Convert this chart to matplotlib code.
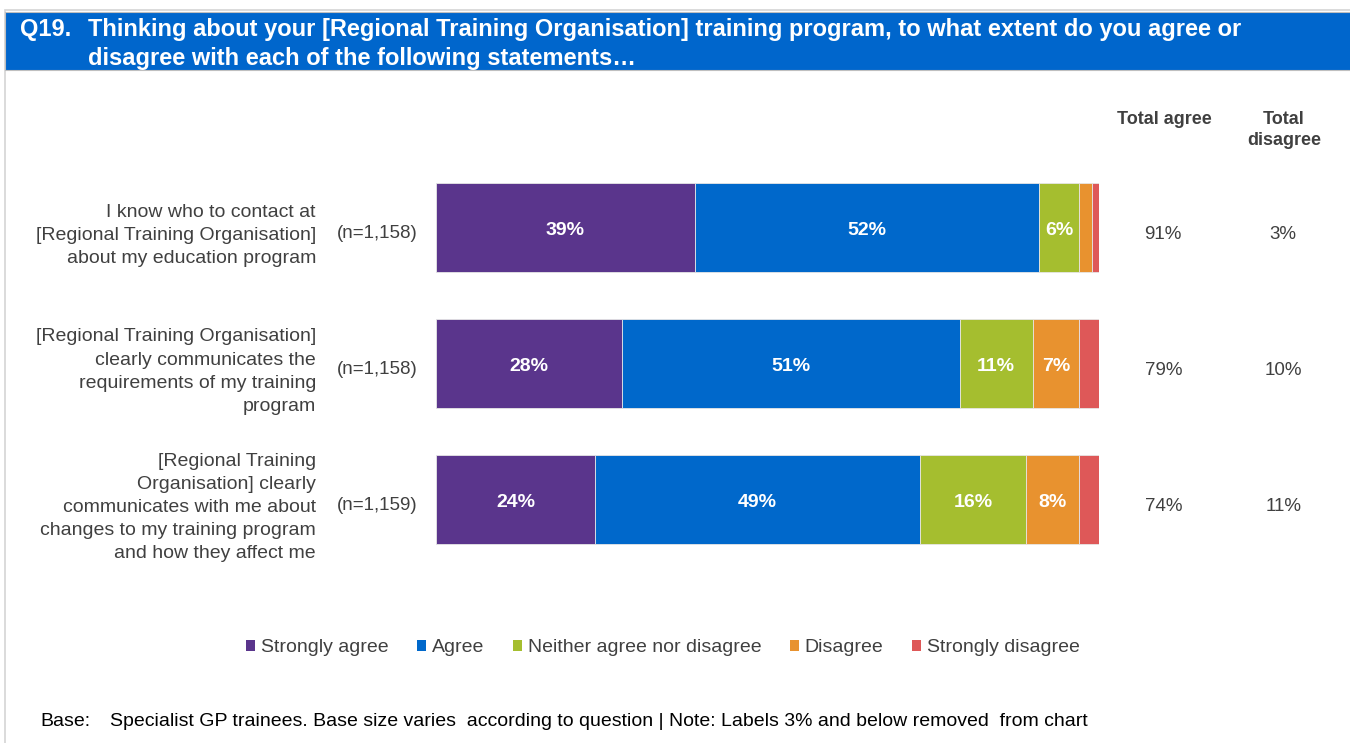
import numpy as np
import matplotlib.pyplot as plt
from matplotlib.patches import Rectangle, Patch

plt.rcParams['font.family'] = ['Liberation Sans', 'DejaVu Sans']

# Data
statements = [
    "I know who to contact at\n[Regional Training Organisation]\nabout my education program",
    "[Regional Training Organisation]\nclearly communicates the\nrequirements of my training\nprogram",
    "[Regional Training\nOrganisation] clearly\ncommunicates with me about\nchanges to my training program\nand how they affect me",
]
base_sizes = ["(n=1,158)", "(n=1,158)", "(n=1,159)"]
categories = ["Strongly agree", "Agree", "Neither agree nor disagree", "Disagree", "Strongly disagree"]
strongly_agree = [39, 28, 24]
agree = [52, 51, 49]
neither = [6, 11, 16]
disagree = [2, 7, 8]
strongly_disagree = [1, 3, 3]
total_agree = [91, 79, 74]
total_disagree = [3, 10, 11]

colors = ['#5A358C', '#0068CB', '#A5BE2F', '#E8922F', '#DE5858']
header_blue = '#0066CC'
text_grey = '#404040'

W, H = 1350, 743
fig = plt.figure(figsize=(W / 100, H / 100), dpi=100)


def fx(px):
    return px / W


def fy(py):
    return 1 - py / H


# frame and header band
fig.patches.append(Rectangle((fx(5), fy(H + 5)), fx(W), fy(10) - fy(H + 5), transform=fig.transFigure,
                             facecolor='none', edgecolor='#d4d4d4', lw=1.2, zorder=0))
fig.patches.append(Rectangle((fx(5), fy(70)), 1, fy(12) - fy(70), transform=fig.transFigure,
                             facecolor=header_blue, edgecolor='#bfbfbf', lw=0.8, zorder=1))
fig.text(fx(20), fy(36), "Q19.", color='white', fontsize=17, fontweight='bold', va='baseline')
fig.text(fx(88), fy(36), "Thinking about your [Regional Training Organisation] training program, to what extent do you agree or",
         color='white', fontsize=17, fontweight='bold', va='baseline')
fig.text(fx(88), fy(65), "disagree with each of the following statements…",
         color='white', fontsize=17, fontweight='bold', va='baseline')

# bar axes
ax = fig.add_axes([fx(436), fy(567.5), fx(1099) - fx(436), fy(159.5) - fy(567.5)])
series = [strongly_agree, agree, neither, disagree, strongly_disagree]
y = np.arange(len(statements))
left = np.zeros(len(statements))
dy = 0.025  # text sits slightly below bar centre in the reference
for vals, col in zip(series, colors):
    vals = np.array(vals)
    ax.barh(y, vals, left=left, height=0.66, color=col, edgecolor='#e6e6e6', linewidth=0.6)
    for yi, v, l in zip(y, vals, left):
        if v > 3:
            ax.text(l + v / 2, yi + dy, f"{v}%", color='white', fontsize=14, fontweight='bold',
                    ha='center', va='center')
    left += vals
ax.set_xlim(0, 100)
ax.set_ylim(2.5, -0.5)
ax.axis('off')

# row labels and totals
for yi, stmt, n, ta, td in zip(y, statements, base_sizes, total_agree, total_disagree):
    ax.text(-18.1, yi + 0.06, stmt, ha='right', va='center', fontsize=14,
            color=text_grey, linespacing=1.47, clip_on=False)
    ax.text(-15, yi + 0.045, n, ha='left', va='center', fontsize=13.5, color=text_grey, clip_on=False)
    ax.text(109.7, yi + 0.05, f"{ta}%", ha='center', va='center', fontsize=13.5, color=text_grey, clip_on=False)
    ax.text(127.8, yi + 0.05, f"{td}%", ha='center', va='center', fontsize=13.5, color=text_grey, clip_on=False)

fig.text(fx(1164), fy(120), "Total agree", ha='center', va='center', fontsize=13,
         fontweight='bold', color=text_grey)
fig.text(fx(1284), fy(130), "Total\ndisagree", ha='center', va='center', fontsize=13,
         fontweight='bold', color=text_grey, linespacing=1.37)

# legend
handles = [Patch(facecolor=c, edgecolor='none', label=lab) for c, lab in zip(colors, categories)]
fig.legend(handles=handles, loc='center', bbox_to_anchor=(fx(663), fy(648)), ncol=5, frameon=False,
           fontsize=14, handlelength=0.46, handleheight=0.46, handletextpad=0.3, columnspacing=1.47,
           labelcolor=text_grey)

# footer
fig.text(fx(40), fy(722), "Base:", fontsize=14, va='center', color='black')
fig.text(fx(110), fy(722), "Specialist GP trainees. Base size varies  according to question | Note: Labels 3% and below removed  from chart",
         fontsize=14, va='center', color='black')

fig.savefig('out.png', dpi=100)
